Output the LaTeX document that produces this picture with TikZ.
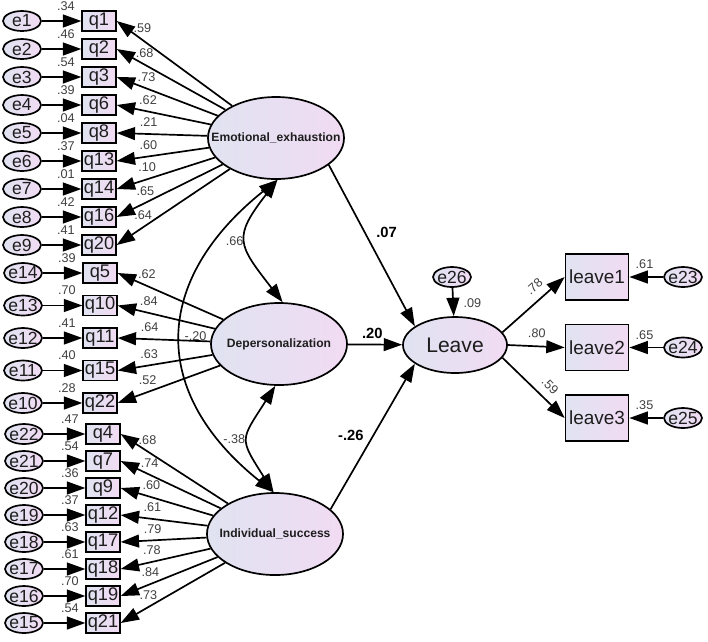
\documentclass[tikz,border=0pt]{standalone}
\usepackage{fontspec}
\setmainfont{Liberation Sans}
\usepackage{tikz}
\usetikzlibrary{arrows.meta, calc, shapes.geometric, positioning}
\definecolor{colorShadeLeft}{RGB}{224,227,241}
\definecolor{colorShadeRight}{RGB}{241,219,243}
\definecolor{colorValue}{RGB}{64,64,64}
\definecolor{colorName}{RGB}{30,30,30}
\tikzset{
  shadedVar/.style={draw, line width=1.2pt, left color=colorShadeLeft, right color=colorShadeRight, inner sep=0pt, text=colorName},
  errorVar/.style={shadedVar, ellipse, inner xsep=-0.5mm, minimum width=9.5mm, minimum height=5mm, font=\fontsize{12.5}{13}\selectfont},
  indicator/.style={shadedVar, rectangle, minimum width=8.4mm, minimum height=5mm, font=\fontsize{13}{14}\selectfont},
  latentVar/.style={shadedVar, ellipse, inner xsep=-5mm, minimum width=34mm, minimum height=20.5mm, font=\fontsize{8.6}{9}\selectfont\bfseries},
  outcomeVar/.style={shadedVar, rectangle, minimum width=15.75mm, minimum height=11.5mm, font=\fontsize{13.5}{14}\selectfont},
  valueLabel/.style={text=colorValue, inner sep=0.5pt, font=\fontsize{9}{9}\selectfont},
  loadLabel/.style={valueLabel, sloped, above=4pt},
  pathLabel/.style={inner sep=0.5pt, font=\fontsize{10.5}{11}\selectfont\bfseries},
}

\begin{document}
\begin{tikzpicture}[>={Triangle[length=4.6mm,width=3.2mm]}, line width=1.2pt, x=0.025cm, y=-0.025cm]
\useasboundingbox (0,0) rectangle (708,641);
% latent variables
\node[latentVar] (EE) at (276,138) {Emotional\_exhaustion};
\node[latentVar] (DP) at (279,344) {Depersonalization};
\node[latentVar] (IS) at (275,534) {Individual\_success};
\node[latentVar, minimum width=26mm, minimum height=14mm, font=\fontsize{15}{16}\selectfont] (Leave) at (455,345) {Leave};
\node[errorVar] (e26) at (452,277) {e26};
% indicators of Emotional_exhaustion
\foreach \ev/\qv/\rs/\ld [count=\k from 0] in {e1/q1/.34/.59, e2/q2/.46/.68, e3/q3/.54/.73, e4/q6/.39/.62, e5/q8/.04/.21, e6/q13/.37/.60, e7/q14/.01/.10, e8/q16/.42/.65, e9/q20/.41/.64}{
  \node[errorVar] (\ev) at (22,{21+28*\k}) {\ev};
  \node[indicator] (\qv) at (99,{21+28*\k}) {\qv};
  \draw[->] (\ev) -- (\qv);
  \draw[<-] (\qv.east) -- ($(\qv.east)!8mm!(EE)$) node[loadLabel] (l\qv) {\ld} -- (EE);
  \node[valueLabel, anchor=south east] (r\qv) at ([xshift=-1.3mm, yshift=-0.4mm]\qv.north west) {\rs};
}
% indicators of Depersonalization
\foreach \ev/\qv/\rs/\ld [count=\k from 0] in {e14/q5/.39/.62, e13/q10/.70/.84, e12/q11/.41/.64, e11/q15/.40/.63, e10/q22/.28/.52}{
  \node[errorVar] (\ev) at (23,{273+32.5*\k}) {\ev};
  \node[indicator] (\qv) at (100,{273+32.5*\k}) {\qv};
  \draw[->] (\ev) -- (\qv);
  \draw[<-] (\qv.east) -- ($(\qv.east)!8mm!(DP)$) node[loadLabel] (l\qv) {\ld} -- (DP);
  \node[valueLabel, anchor=south east] (r\qv) at ([xshift=-1.3mm, yshift=-0.4mm]\qv.north west) {\rs};
}
% indicators of Individual_success
\foreach \ev/\qv/\rs/\ld [count=\k from 0] in {e22/q4/.47/.68, e21/q7/.54/.74, e20/q9/.36/.60, e19/q12/.37/.61, e18/q17/.63/.79, e17/q18/.61/.78, e16/q19/.70/.84, e15/q21/.54/.73}{
  \node[errorVar] (\ev) at (24,{434+27*\k}) {\ev};
  \node[indicator] (\qv) at (103,{434+27*\k}) {\qv};
  \draw[->] (\ev) -- (\qv);
  \draw[<-] (\qv.east) -- ($(\qv.east)!8mm!(IS)$) node[loadLabel] (l\qv) {\ld} -- (IS);
  \node[valueLabel, anchor=south east] (r\qv) at ([xshift=-1.3mm, yshift=-0.4mm]\qv.north west) {\rs};
}
% indicators of Leave
\foreach \ov/\ev/\rs/\ld/\ang/\lp [count=\k from 0] in {leave1/e23/.61/.78/15/0.65, leave2/e24/.65/.80/0/0.5, leave3/e25/.35/.59/-15/0.62}{
  \node[outcomeVar] (\ov) at (597,{277+70.5*\k}) {\ov};
  \node[errorVar] (\ev) at (683,{277+70.5*\k}) {\ev};
  \draw[->] (\ev) -- (\ov);
  \draw[->] (Leave.\ang) -- node[loadLabel, pos=\lp, above=5pt] (l\ov) {\ld} (\ov.west);
  \node[valueLabel, anchor=south west] (r\ov) at ([xshift=1.2mm, yshift=1.6mm]\ov.east) {\rs};
}
% structural paths
\draw[->] (EE.-27) -- node[pathLabel, pos=0.42, right=7pt] (pEE) {.07} (Leave.155);
\draw[->] (DP) -- node[pathLabel, pos=0.45, above=3pt] (pDP) {.20} (Leave);
\draw[->] (IS.24) -- node[pathLabel, pos=0.51, left=6pt] (pIS) {-.26} (Leave.-155);
\draw[->] (e26) -- (Leave);
\node[valueLabel, anchor=south west] (rLeave) at ([xshift=1.75mm, yshift=1.75mm]Leave.north) {.09};
% covariances
\draw[<->] (EE.-88) .. controls +(-45,58) and +(-45,-58) .. (DP.85) node[valueLabel, pos=0.5, left=1pt] (cEEDP) {.66};
\draw[<->] (DP.-95) .. controls +(-35,55) and +(-35,-55) .. (IS.92) node[valueLabel, pos=0.5, left=1pt] (cDPIS) {-.38};
\draw[<->] (EE.-88) .. controls +(-125,100) and +(-125,-100) .. (IS.92) node[valueLabel, pos=0.5, right=1pt] (cEEIS) {-.20};
\end{tikzpicture}
\end{document}
